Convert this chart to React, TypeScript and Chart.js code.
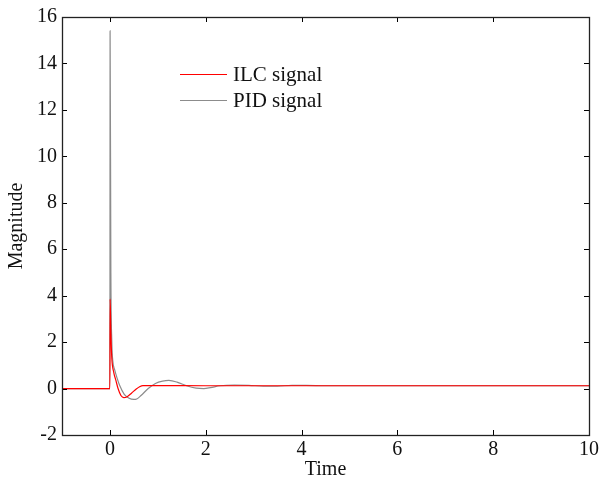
import React, { useEffect, useRef } from "react";
import { Chart, registerables } from "chart.js";

Chart.register(...registerables);

const ilcTime = [-1, 0, 0.004, 0.02, 0.04, 0.08, 0.125, 0.17, 0.23, 0.29, 0.36, 0.45, 0.55, 0.62, 0.69, 1, 2, 3, 4, 5, 6, 7, 8, 9, 10];
const ilcValues = [0, 0, 3.85, 2.4, 1.3, 0.7, 0.35, 0.0, -0.3, -0.39, -0.35, -0.2, -0.02, 0.08, 0.13, 0.13, 0.12, 0.12, 0.12, 0.12, 0.12, 0.12, 0.12, 0.12, 0.12];

const pidTime = [-1, 0, 0.004, 0.02, 0.04, 0.06, 0.1, 0.15, 0.2, 0.3, 0.4, 0.5, 0.56, 0.65, 0.8, 0.95, 1.1, 1.23, 1.4, 1.6, 1.8, 1.96, 2.1, 2.3, 2.6, 2.9, 3.2, 3.5, 3.8, 4.1, 4.5, 5, 6, 7, 8, 9, 10];
const pidValues = [0, 0, 15.4, 5.0, 2.0, 1.2, 0.8, 0.45, 0.15, -0.25, -0.42, -0.47, -0.45, -0.3, 0.0, 0.22, 0.32, 0.35, 0.28, 0.12, 0.02, 0.0, 0.04, 0.12, 0.15, 0.14, 0.1, 0.1, 0.14, 0.14, 0.12, 0.12, 0.12, 0.12, 0.12, 0.12, 0.12];

const xTicks = [0, 2, 4, 6, 8, 10];
const yTicks = [-2, 0, 2, 4, 6, 8, 10, 12, 14, 16];
const seriesLabels = ["ILC signal", "PID signal"];
const seriesColors = ["#ff0000", "#8c8c8c"];

const FONT = "'Liberation Serif', 'Times New Roman', serif";

const framePlugin = {
  id: "frameTicks",
  afterDatasetsDraw(chart: any) {
    const { ctx, chartArea } = chart;
    const { left, right, top, bottom } = chartArea;
    const xs = chart.scales.x;
    const ys = chart.scales.y;
    ctx.save();
    ctx.strokeStyle = "#000";
    ctx.lineWidth = 1;
    const tl = 5;
    ctx.beginPath();
    xTicks.forEach((v) => {
      const px = Math.round(xs.getPixelForValue(v)) + 0.5;
      ctx.moveTo(px, bottom);
      ctx.lineTo(px, bottom - tl);
      ctx.moveTo(px, top);
      ctx.lineTo(px, top + tl);
    });
    yTicks.forEach((v) => {
      const py = Math.round(ys.getPixelForValue(v)) + 0.5;
      ctx.moveTo(left, py);
      ctx.lineTo(left + tl, py);
      ctx.moveTo(right, py);
      ctx.lineTo(right - tl, py);
    });
    ctx.stroke();
    ctx.strokeStyle = "#222";
    ctx.lineWidth = 1.3;
    ctx.strokeRect(Math.round(left) + 0.5, Math.round(top) + 0.5, Math.round(right - left), Math.round(bottom - top));

    // legend
    ctx.font = `21px ${FONT}`;
    ctx.textBaseline = "middle";
    ctx.fillStyle = "#111";
    seriesLabels.forEach((lab, i) => {
      const y = top + 57 + i * 26;
      ctx.strokeStyle = seriesColors[i];
      ctx.lineWidth = 1.2;
      ctx.beginPath();
      ctx.moveTo(left + 118, y + 0.5);
      ctx.lineTo(left + 165, y + 0.5);
      ctx.stroke();
      ctx.fillText(lab, left + 171, y + 1);
    });
    ctx.restore();
  },
};

export default function App() {
  const ref = useRef<HTMLCanvasElement>(null);
  useEffect(() => {
    document.body.style.margin = "0";
    const ctx = ref.current!.getContext("2d")!;
    const chart = new Chart(ctx, {
      type: "line",
      data: {
        datasets: [
          {
            label: seriesLabels[0],
            data: ilcTime.map((t, i) => ({ x: t, y: ilcValues[i] })),
            borderColor: seriesColors[0],
            borderWidth: 1.2,
            pointRadius: 0,
            cubicInterpolationMode: "monotone",
            fill: false,
            order: 1,
          },
          {
            label: seriesLabels[1],
            data: pidTime.map((t, i) => ({ x: t, y: pidValues[i] })),
            borderColor: seriesColors[1],
            borderWidth: 1.2,
            pointRadius: 0,
            cubicInterpolationMode: "monotone",
            fill: false,
            order: 2,
          },
        ],
      },
      options: {
        animation: false,
        responsive: false,
        maintainAspectRatio: false,
        layout: { padding: { left: 0, right: 12, top: 17, bottom: 0 } },
        plugins: { legend: { display: false }, tooltip: { enabled: false } },
        scales: {
          x: {
            type: "linear",
            min: -1,
            max: 10,
            grid: { display: false, drawTicks: false },
            border: { display: false },
            afterBuildTicks: (s: any) => {
              s.ticks = xTicks.map((v) => ({ value: v }));
            },
            afterFit: (s: any) => {
              s.height = 47;
            },
            ticks: { color: "#111", font: { family: FONT, size: 20 }, padding: 3, maxRotation: 0 },
            title: { display: true, text: "Time", color: "#111", font: { family: FONT, size: 20 }, padding: { top: 0, bottom: 0 } },
          },
          y: {
            type: "linear",
            min: -2,
            max: 16,
            grid: { display: false, drawTicks: false },
            border: { display: false },
            afterBuildTicks: (s: any) => {
              s.ticks = yTicks.map((v) => ({ value: v }));
            },
            afterFit: (s: any) => {
              s.width = 62;
            },
            ticks: { color: "#111", font: { family: FONT, size: 20 }, padding: 5 },
            title: { display: true, text: "Magnitude", color: "#111", font: { family: FONT, size: 20 }, padding: { top: 5, bottom: 0 } },
          },
        },
      },
      plugins: [framePlugin],
    });
    return () => chart.destroy();
  }, []);
  return (
    <div style={{ width: 602, height: 482, background: "#fff" }}>
      <canvas ref={ref} width={602} height={482} />
    </div>
  );
}
